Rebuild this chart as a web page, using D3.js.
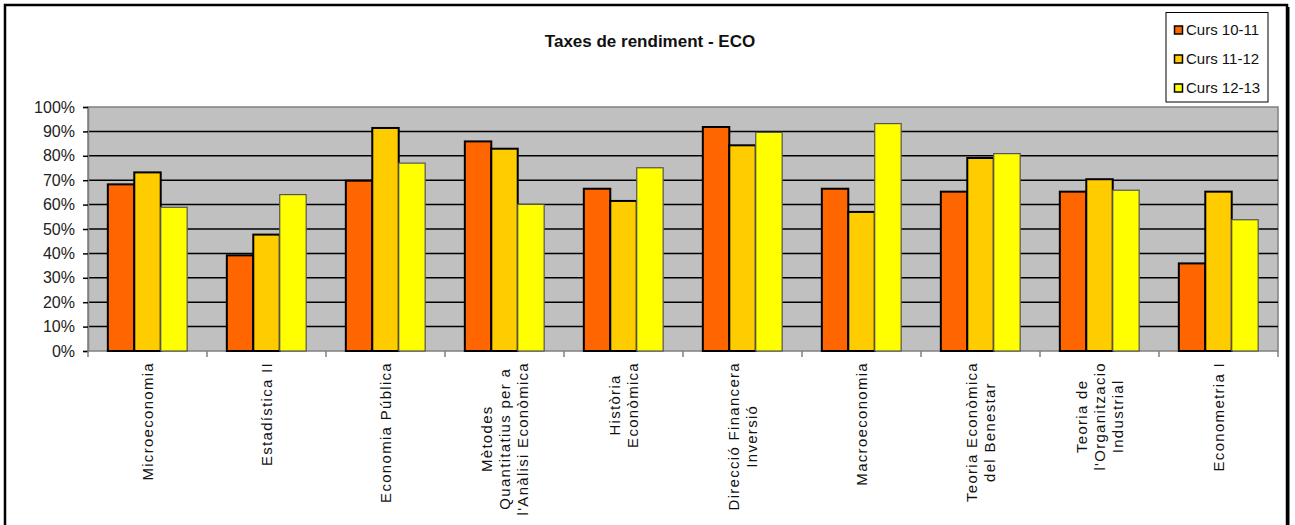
<!DOCTYPE html>
<html>
<head>
<meta charset="utf-8">
<script src="https://cdnjs.cloudflare.com/ajax/libs/d3/7.8.5/d3.min.js"></script>
<style>
  html, body { margin: 0; padding: 0; background: #fff; }
  svg { display: block; font-family: "Liberation Sans", Arial, sans-serif; }
</style>
</head>
<body>
<svg id="chart" width="1295" height="525"></svg>
<script>
// ---- data ----
const categories = [
  ["Microeconomia"],
  ["Estadística II"],
  ["Economia Pública"],
  ["Mètodes", "Quantitatius per a", "l'Anàlisi Econòmica"],
  ["Història", "Econòmica"],
  ["Direcció Financera", "Inversió"],
  ["Macroeconomia"],
  ["Teoria Econòmica", "del Benestar"],
  ["Teoria de", "l'Organitzacio", "Industrial"],
  ["Econometria I"]
];
const seriesNames = ["Curs 10-11", "Curs 11-12", "Curs 12-13"];
const curs1011 = [68.3, 39.2, 69.8, 85.9, 66.5, 91.8, 66.5, 65.3, 65.3, 35.9];
const curs1112 = [73.2, 47.7, 91.4, 82.9, 61.5, 84.3, 57.0, 79.1, 70.4, 65.3];
const curs1213 = [58.9, 64.1, 77.0, 60.1, 75.1, 89.6, 93.2, 80.9, 65.9, 53.8];
const yTicks = [0, 10, 20, 30, 40, 50, 60, 70, 80, 90, 100];
const colors = ["#FF6600", "#FFCC00", "#FFFF00"];
const title = "Taxes de rendiment - ECO";

// ---- layout ----
const svg = d3.select("#chart");
const plot = { left: 88, right: 1278, top: 107, bottom: 351 };

// outer frame
svg.append("rect").attr("x", 5).attr("y", 5).attr("width", 1282).attr("height", 540)
  .attr("fill", "#fff").attr("stroke", "#000").attr("stroke-width", 2.5);
svg.append("line").attr("x1", 1288.5).attr("x2", 1288.5).attr("y1", 7).attr("y2", 525)
  .attr("stroke", "#000").attr("stroke-width", 2);

const x0 = d3.scaleBand().domain(d3.range(categories.length))
  .range([plot.left, plot.right]).paddingInner(0).paddingOuter(0);
const x1 = d3.scaleBand().domain(d3.range(seriesNames.length))
  .range([0, x0.bandwidth()]).paddingInner(0).paddingOuter(0.75);
const y = d3.scaleLinear().domain([0, 100]).range([plot.bottom, plot.top]);

// plot background
svg.append("rect").attr("x", plot.left).attr("y", plot.top)
  .attr("width", plot.right - plot.left).attr("height", plot.bottom - plot.top)
  .attr("fill", "#C0C0C0").attr("stroke", "#808080").attr("stroke-width", 1.5);

// gridlines
svg.append("g").selectAll("line").data(yTicks.filter(t => t > 0 && t < 100)).join("line")
  .attr("x1", plot.left).attr("x2", plot.right)
  .attr("y1", d => y(d)).attr("y2", d => y(d))
  .attr("stroke", "#000").attr("stroke-width", 1.5);

// y axis
const yAxis = d3.axisLeft(y).tickValues(yTicks).tickFormat(d => d + "%").tickSize(5).tickPadding(8);
const gy = svg.append("g").attr("transform", `translate(${plot.left},0)`).call(yAxis);
gy.select(".domain").attr("stroke", "#808080").attr("stroke-width", 1.5);
gy.selectAll(".tick line").attr("stroke", "#000").attr("stroke-width", 1.5);
gy.selectAll(".tick text").attr("font-size", 16).attr("fill", "#222")
  .attr("font-family", "Liberation Sans, Arial, sans-serif");

// x axis ticks (between categories)
const boundaries = d3.range(categories.length + 1).map(i => plot.left + i * x0.bandwidth());
svg.append("g").selectAll("line").data(boundaries).join("line")
  .attr("x1", d => d).attr("x2", d => d)
  .attr("y1", plot.bottom).attr("y2", plot.bottom + 6)
  .attr("stroke", "#808080").attr("stroke-width", 1.5);

// bars
const series = [curs1011, curs1112, curs1213];
const gBars = svg.append("g");
series.forEach((vals, s) => {
  gBars.selectAll(null).data(vals).join("rect")
    .attr("x", (d, i) => x0(i) + x1(s))
    .attr("y", d => y(d))
    .attr("width", x1.bandwidth())
    .attr("height", d => y(0) - y(d))
    .attr("fill", colors[s])
    .attr("stroke", s === 2 ? "#555" : "#000")
    .attr("stroke-width", s === 2 ? 1.2 : 2);
});

// x labels (rotated, multi-line)
const labelTop = 362;
const lineStep = 18;
categories.forEach((lines, i) => {
  const cx = x0(i) + x0.bandwidth() / 2;
  const g = svg.append("g");
  const texts = lines.map((ln, j) => g.append("text")
    .attr("font-size", 15).attr("letter-spacing", 1.3).attr("fill", "#111")
    .attr("text-anchor", "middle").text(ln));
  const maxW = d3.max(texts, t => t.node().getComputedTextLength());
  g.attr("transform", `translate(${cx},${labelTop + maxW / 2}) rotate(-90)`);
  texts.forEach((t, j) => {
    t.attr("x", 0).attr("y", (j - (lines.length - 1) / 2) * lineStep).attr("dy", "0.35em");
  });
});

// title
svg.append("text").attr("x", 650).attr("y", 47).attr("text-anchor", "middle")
  .attr("font-size", 17).attr("font-weight", "bold").attr("fill", "#111").text(title);

// legend
const lg = svg.append("g");
lg.append("rect").attr("x", 1166).attr("y", 12.5).attr("width", 102).attr("height", 89.5)
  .attr("fill", "#fff").attr("stroke", "#000").attr("stroke-width", 1);
seriesNames.forEach((name, i) => {
  const cy = 30 + i * 29;
  lg.append("rect").attr("x", 1174.5).attr("y", cy - 4).attr("width", 8).attr("height", 8)
    .attr("fill", colors[i]).attr("stroke", "#000").attr("stroke-width", 1.5);
  lg.append("text").attr("x", 1186).attr("y", cy).attr("dy", "0.36em")
    .attr("font-size", 15).attr("fill", "#111").text(name);
});
</script>
</body>
</html>
